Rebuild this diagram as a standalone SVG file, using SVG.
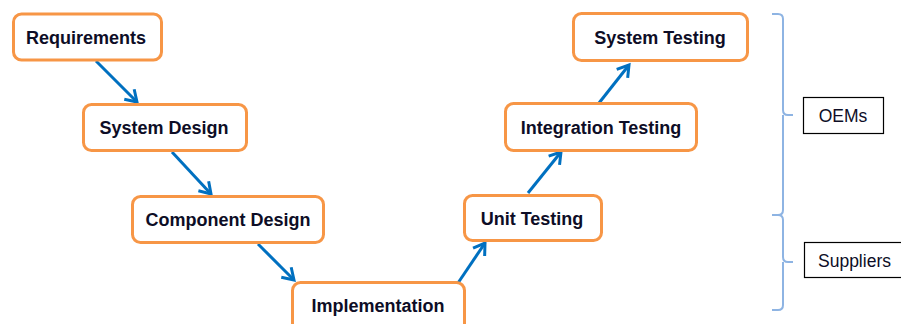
<svg xmlns="http://www.w3.org/2000/svg" width="901" height="324" viewBox="0 0 901 324">
<style>
.box{fill:#fff;stroke:#F79646;stroke-width:3}
.lbl{font-family:"Liberation Sans",Arial,sans-serif;font-weight:bold;font-size:18px;fill:#0d0d26;text-anchor:middle}
.arr{stroke:#0070C0;stroke-width:3;fill:none;marker-end:url(#ah)}
.brace{stroke:#8EB4E3;stroke-width:2;fill:none}
.side{fill:#fff;stroke:#000;stroke-width:1.2}
.stxt{font-family:"Liberation Sans",Arial,sans-serif;font-size:17.5px;fill:#0d0d26}
</style>
<defs>
<marker id="ah" markerUnits="userSpaceOnUse" markerWidth="20" markerHeight="20" viewBox="-12 -10 14 20" refX="0" refY="0" orient="auto">
<path d="M-11,-7 L0,0 L-11,7" fill="none" stroke="#0070C0" stroke-width="3"/>
</marker>
</defs>
<rect width="901" height="324" fill="#fff"/>
<g id="connectors">
<line class="arr" x1="96" y1="61" x2="137" y2="102"/>
<line class="arr" x1="172" y1="152" x2="211" y2="194"/>
<line class="arr" x1="258" y1="244" x2="294" y2="280"/>
<line class="arr" x1="458" y1="283" x2="485" y2="243"/>
<line class="arr" x1="528" y1="193" x2="561" y2="152"/>
<line class="arr" x1="599" y1="103" x2="629" y2="65"/>
</g>
<g id="n-requirements"><rect class="box" x="13.5" y="14" width="148" height="46" rx="8"/><text class="lbl" x="86" y="43.5">Requirements</text></g>
<g id="n-system-design"><rect class="box" x="83.5" y="104.5" width="163" height="46" rx="8"/><text class="lbl" x="164" y="134">System Design</text></g>
<g id="n-component-design"><rect class="box" x="132.5" y="196.5" width="191" height="46" rx="8"/><text class="lbl" x="228" y="226">Component Design</text></g>
<g id="n-implementation"><rect class="box" x="292.5" y="282.5" width="172" height="50" rx="8"/><text class="lbl" x="378" y="311.5">Implementation</text></g>
<g id="n-unit-testing"><rect class="box" x="464.5" y="195.5" width="137" height="45" rx="8"/><text class="lbl" x="532" y="224.5">Unit Testing</text></g>
<g id="n-integration-testing"><rect class="box" x="505.5" y="103.5" width="191" height="47" rx="8"/><text class="lbl" x="601" y="133.5">Integration Testing</text></g>
<g id="n-system-testing"><rect class="box" x="573.5" y="13.5" width="174" height="47" rx="8"/><text class="lbl" x="660" y="43.5">System Testing</text></g>
<g id="brace-oems"><path class="brace" d="M772,14 H778 Q783,14 783,19 V110 Q783,115 788,115 H793 M783,115 V210 Q783,215 778,215 H772"/></g>
<g id="brace-suppliers"><path class="brace" d="M772,215 H778 Q783,215 783,220 V257 Q783,262 788,262 H793 M783,262 V305 Q783,310 778,310 H772"/></g>
<g id="n-oems"><rect class="side" x="803.5" y="97.5" width="80" height="36"/><text class="stxt" x="843" y="122" text-anchor="middle">OEMs</text></g>
<g id="n-suppliers"><rect class="side" x="804.5" y="242.5" width="110" height="35"/><text class="stxt" x="818" y="266.5">Suppliers</text></g>
</svg>
